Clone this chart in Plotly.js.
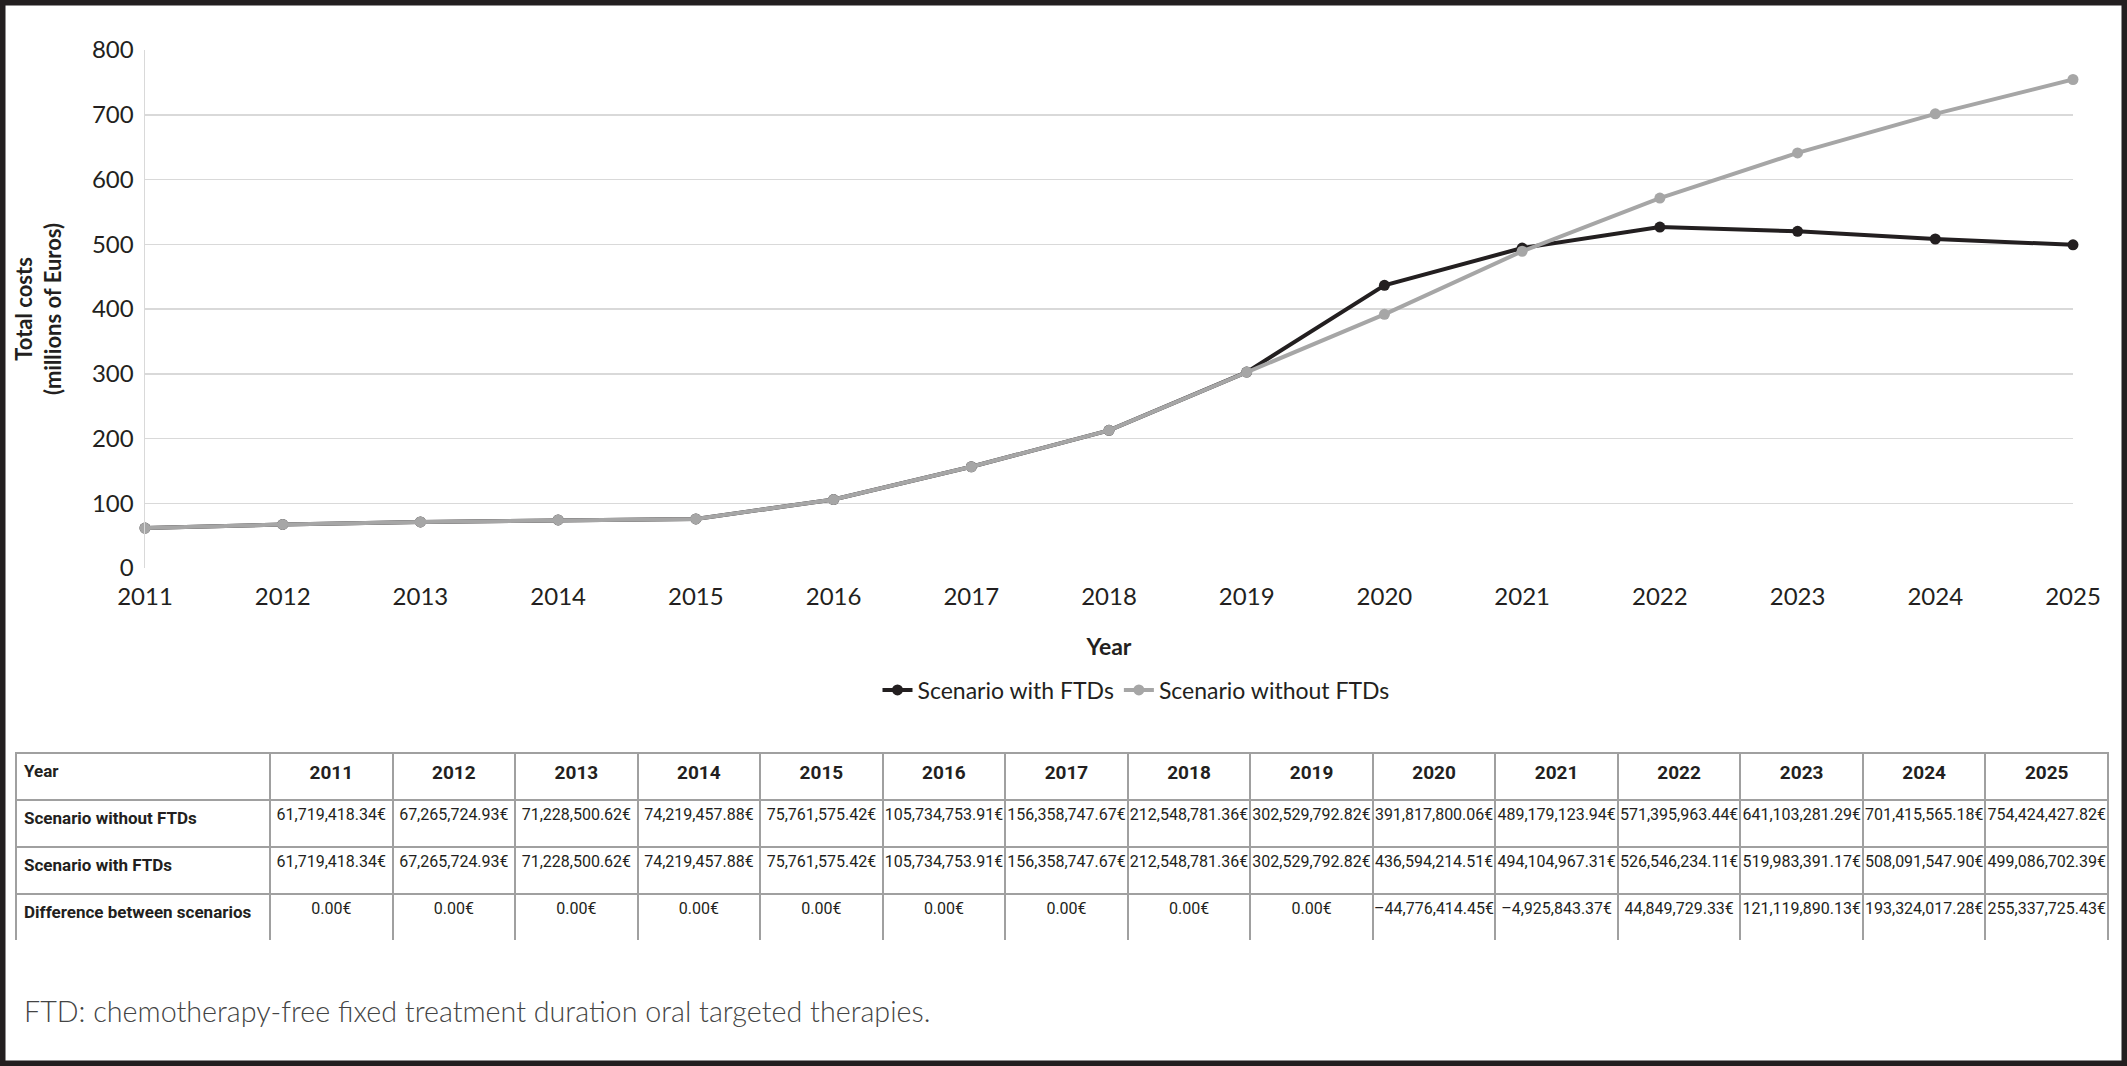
<!DOCTYPE html>
<html>
<head>
<meta charset="utf-8">
<script src="https://cdn.plot.ly/plotly-3.0.1.min.js"></script>
<style>html,body{margin:0;padding:0;background:#fff;}#chart{width:2127px;height:1066px;}</style>
</head>
<body>
<div id="chart"></div>
<script>
const years = [2011,2012,2013,2014,2015,2016,2017,2018,2019,2020,2021,2022,2023,2024,2025];
const withoutFTDs = [61719418.34, 67265724.93, 71228500.62, 74219457.88, 75761575.42, 105734753.91, 156358747.67, 212548781.36, 302529792.82, 391817800.06, 489179123.94, 571395963.44, 641103281.29, 701415565.18, 754424427.82];
const withFTDs = [61719418.34, 67265724.93, 71228500.62, 74219457.88, 75761575.42, 105734753.91, 156358747.67, 212548781.36, 302529792.82, 436594214.51, 494104967.31, 526546234.11, 519983391.17, 508091547.90, 499086702.39];
const difference = [0,0,0,0,0,0,0,0,0,-44776414.45,-4925843.37,44849729.33,121119890.13,193324017.28,255337725.43];
const yTicks = [0,100,200,300,400,500,600,700,800];
const rowLabels = ["Scenario without FTDs","Scenario with FTDs","Difference between scenarios"];
const footnote = "FTD: chemotherapy-free fixed treatment duration oral targeted therapies.";

function fmt(v){
  const neg = v < 0;
  const parts = Math.abs(v).toFixed(2).split('.');
  const ip = parts[0].replace(/\B(?=(\d{3})+(?!\d))/g, ',');
  return (neg ? '\u2013' : '') + ip + '.' + parts[1] + '€';
}
const toM = arr => arr.map(v => v / 1e6);

const W = 2127, H = 1066;
const px = x => x / W;
const py = y => 1 - y / H;
const ink = '#231f20';
const chartFont = 'Lato, "Open Sans", sans-serif';
const tableFont = 'Roboto, "DejaVu Sans Condensed", sans-serif';

const traces = [
  {x: years, y: toM(withFTDs), type: 'scatter', mode: 'lines+markers', name: 'Scenario with FTDs',
   line: {color: ink, width: 4}, marker: {color: ink, size: 11}, cliponaxis: false},
  {x: years, y: toM(withoutFTDs), type: 'scatter', mode: 'lines+markers', name: 'Scenario without FTDs',
   line: {color: '#a6a6a6', width: 4}, marker: {color: '#a6a6a6', size: 11}, cliponaxis: false},
  {type: 'table',
   domain: {x: [px(16), px(2108)], y: [py(941), py(753)]},
   columnwidth: [254].concat(years.map(() => 122.5)),
   header: {
     values: [['<b>Year</b>']].concat(years.map(y => ['<b>' + y + '</b>'])),
     align: ['left'].concat(years.map(() => 'center')),
     height: 47,
     fill: {color: '#ffffff'},
     line: {color: '#a0a0a0', width: 2},
     font: {family: tableFont, size: [17].concat(years.map(() => 19)), color: ink}
   },
   cells: {
     values: [rowLabels.map(l => '<b>' + l + '</b>')].concat(years.map((y, i) => [fmt(withoutFTDs[i]), fmt(withFTDs[i]), fmt(difference[i])])),
     align: ['left'].concat(years.map(() => 'center')),
     height: 47,
     fill: {color: '#ffffff'},
     line: {color: '#a0a0a0', width: 2},
     font: {family: tableFont, size: [17].concat(years.map(() => 16)), color: ink}
   }
  }
];

const layout = {
  width: W, height: H,
  margin: {l: 0, r: 0, t: 0, b: 0},
  paper_bgcolor: '#ffffff', plot_bgcolor: '#ffffff',
  font: {family: chartFont, color: ink},
  showlegend: true,
  legend: {orientation: 'h', x: px(1136), xanchor: 'center', y: py(690), yanchor: 'middle',
           font: {family: chartFont, size: 23, color: ink}},
  xaxis: {domain: [px(145), px(2073)], range: [2011, 2025], tickvals: years,
          showgrid: false, zeroline: false, showline: false, ticks: '', ticklabelstandoff: 12,
          tickfont: {family: chartFont, size: 24, color: ink},
          title: {text: '<b>Year</b>', font: {family: chartFont, size: 23, color: ink}, standoff: 29}},
  yaxis: {domain: [py(568), py(50)], range: [0, 800], tickvals: yTicks,
          showgrid: true, gridcolor: '#d9d9d9', gridwidth: 1.5, zeroline: false,
          showline: true, linecolor: '#d9d9d9', linewidth: 1.5, ticks: '', ticklabelstandoff: 5,
          tickfont: {family: chartFont, size: 24, color: ink},
          title: {text: '<b>Total costs<br>(millions of Euros)</b>', font: {family: chartFont, size: 22, color: ink}, standoff: 24}},
  annotations: [
    {text: footnote, xref: 'paper', yref: 'paper', x: px(22), y: py(1011), xanchor: 'left', yanchor: 'middle',
     showarrow: false, font: {family: chartFont, size: 28.7, color: '#444444', weight: 300}}
  ],
  shapes: [
    {type: 'rect', xref: 'paper', yref: 'paper', x0: 0, x1: 1, y0: 0, y1: 1, line: {color: ink, width: 11}, fillcolor: 'rgba(0,0,0,0)'}
  ]
};

Plotly.newPlot('chart', traces, layout, {displayModeBar: false, staticPlot: true});
</script>
</body>
</html>
